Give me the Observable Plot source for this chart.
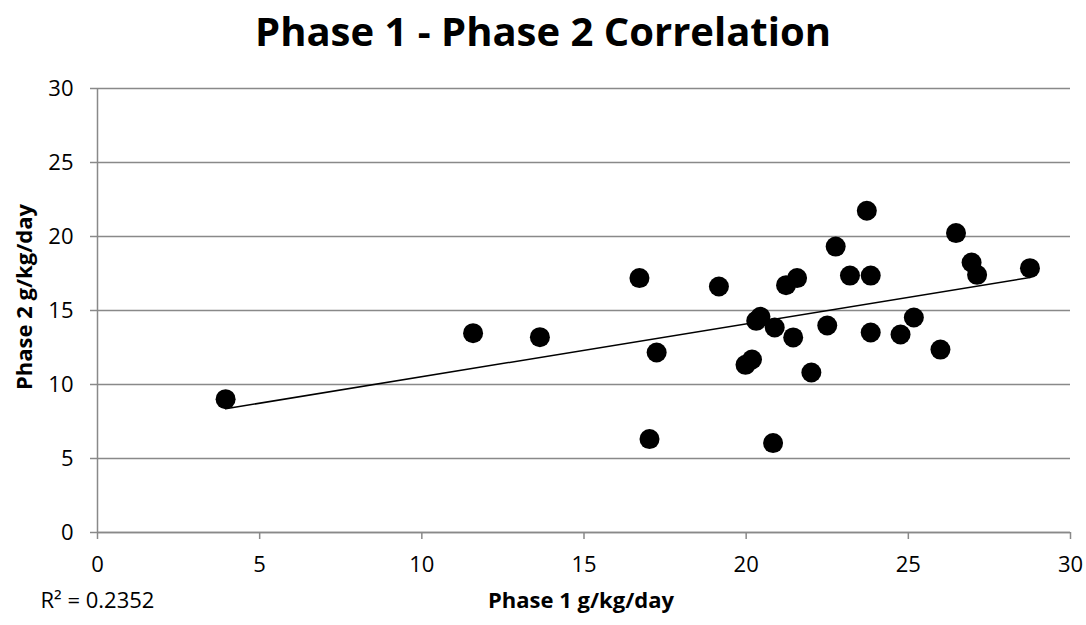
<!DOCTYPE html>
<html>
<head>
<meta charset="utf-8">
<script src="https://cdn.jsdelivr.net/npm/d3@7"></script>
<script src="https://cdn.jsdelivr.net/npm/@observablehq/plot@0.6"></script>
<style>
  body { margin: 0; background: #fff; font-family: "Open Sans", sans-serif; }
  #wrap { width: 1086px; height: 625px; position: relative; overflow: hidden; }
  #title { height: 70px; text-align: center; font-weight: bold; font-size: 40px; line-height: 62px; color: #000; }
  #chart svg { display: block; }
  #ylab { position: absolute; left: 23px; top: 297px; width: 0; height: 0; }
  #ylab span { position: absolute; left: 0; top: 0; transform: translate(-50%, -50%) rotate(-90deg);
               white-space: nowrap; font-weight: bold; font-size: 22px; color: #000; line-height: 1; }
</style>
</head>
<body>
<div id="wrap">
  <div id="title">Phase 1 - Phase 2 Correlation</div>
  <div id="chart"></div>
  <div id="ylab"><span id="ylabText"></span></div>
</div>
<script>
const phase1 = [16.71, 19.16, 21.23, 21.57, 22.76, 23.72, 23.20, 23.84, 26.47, 26.95,
                27.12, 28.75, 17.24, 20.44, 20.31, 20.88, 21.45, 22.50, 23.84, 24.76,
                25.17, 25.99, 19.98, 20.18, 22.01, 17.02, 20.83, 3.95, 11.58, 13.64];
const phase2 = [17.19, 16.62, 16.71, 17.19, 19.32, 21.74, 17.36, 17.36, 20.23, 18.24,
                17.41, 17.86, 12.16, 14.57, 14.30, 13.85, 13.18, 13.99, 13.51, 13.38,
                14.53, 12.36, 11.33, 11.69, 10.81, 6.31, 6.04, 9.01, 13.47, 13.20];
const xTicks = [0, 5, 10, 15, 20, 25, 30];
const yTicks = [0, 5, 10, 15, 20, 25, 30];
const xLabel = "Phase 1 g/kg/day";
const yLabel = "Phase 2 g/kg/day";
const r2Label = "R² = 0.2352";

document.getElementById("ylabText").textContent = yLabel;

const data = phase1.map((x, i) => ({x, y: phase2[i]}));

const chart = Plot.plot({
  width: 1086,
  height: 555,
  marginTop: 18,
  marginBottom: 93,
  marginLeft: 97,
  marginRight: 16,
  style: {fontFamily: "Open Sans, sans-serif", background: "#fff", color: "#000"},
  x: {domain: [0, 30], label: null},
  y: {domain: [0, 30], label: null},
  marks: [
    Plot.gridY(yTicks, {stroke: "#898989", strokeOpacity: 1, strokeWidth: 1.5}),
    Plot.axisY(yTicks, {tickSize: 7, tickPadding: 17, stroke: "#898989", strokeWidth: 1.5, fill: "#000", fontSize: 22, label: null}),
    Plot.axisX(xTicks, {tickSize: 7, tickPadding: 17, stroke: "#898989", strokeWidth: 1.5, fill: "#000", fontSize: 22, label: null}),
    Plot.ruleX([0], {stroke: "#898989", strokeWidth: 1.5, y1: 0, y2: 30}),
    Plot.ruleY([0], {stroke: "#898989", strokeWidth: 1.5}),
    Plot.linearRegressionY(data, {x: "x", y: "y", ci: 0, stroke: "#000", strokeWidth: 1.5}),
    Plot.dot(data, {x: "x", y: "y", r: 10, fill: "#000", stroke: null}),
    Plot.text([xLabel], {frameAnchor: "bottom", dy: 75, dx: -3, fontSize: 22, fontWeight: "bold", fill: "#000"}),
    Plot.text([r2Label], {frameAnchor: "bottom-left", dx: -57, dy: 75, textAnchor: "start", fontSize: 22, fill: "#000"})
  ]
});
document.getElementById("chart").appendChild(chart);
</script>
</body>
</html>
